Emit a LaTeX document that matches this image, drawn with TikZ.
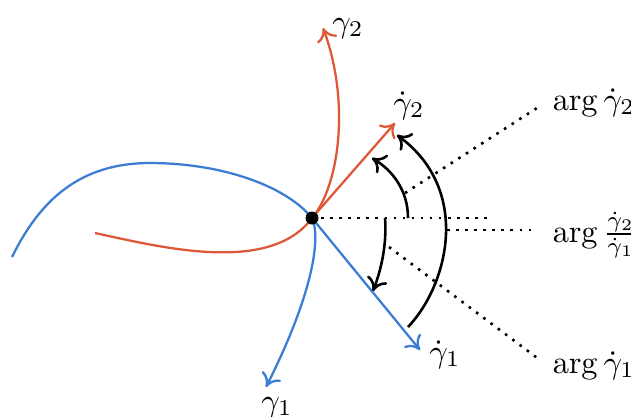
\documentclass[tikz,border=0pt]{standalone}
\usetikzlibrary{arrows.meta}
\definecolor{cblue}{RGB}{58,125,210}
\definecolor{cred}{RGB}{222,88,56}
\begin{document}
\begin{tikzpicture}[x=0.309pt,y=-0.309pt,
  curve/.style={line width=0.7pt},
  tip/.style={-{To[length=4pt,width=6.6pt]}},
  arcarrow/.style={line width=0.8pt,black,-{To[length=4pt,width=6.6pt]}},
  leader/.style={line width=0.8pt,dotted},
  lab/.style={inner sep=0pt,anchor=base}]
\useasboundingbox (0,0) rectangle (631,416);
% key points
\coordinate (P) at (312,218);
\coordinate (T2) at (395,123);
\coordinate (T1) at (420,350);
\coordinate (G2) at (323,28);
\coordinate (G1) at (266,387);
\coordinate (H) at (490,218);
% curves
\draw[curve,cblue,tip] (12,257) .. controls (40,200) and (80,163) .. (150,163)
  .. controls (220,163) and (285,185) .. (P)
  .. controls (322,240) and (310,300) .. (G1);
\draw[curve,cred,tip] (95,233) .. controls (160,247) and (270,275) .. (P)
  .. controls (340,185) and (350,100) .. (G2);
% tangent vectors
\draw[curve,cred,tip] (P) -- (T2);
\draw[curve,cblue,tip] (P) -- (T1);
% horizontal reference
\draw[leader] (P) -- (H);
% angle arcs
\draw[arcarrow] (408,218) .. controls (408,190) and (392,170) .. (372,158);
\draw[arcarrow] (385,218) .. controls (387,245) and (381,270) .. (373,291);
\draw[arcarrow] (408,327) .. controls (448,285) and (472,190) .. (397,135);
% leader starts
\coordinate (A2) at (405,193);
\coordinate (A21) at (447,230);
\coordinate (A1) at (389,247);
% labels
\node[lab] (l2) at (348,32) {$\gamma_2$};
\node[lab] (ld2) at (409,113) {$\dot\gamma_2$};
\node[lab] (ld1) at (445,362) {$\dot\gamma_1$};
\node[lab] (l1) at (277,411) {$\gamma_1$};
\node[inner sep=0pt,anchor=base west] (arg2) at (552,110) {$\arg\dot\gamma_2$};
\node[inner sep=0pt,anchor=base west] (arg21) at (552,242) {$\arg\frac{\dot\gamma_2}{\dot\gamma_1}$};
\node[inner sep=0pt,anchor=base west] (arg1) at (552,373) {$\arg\dot\gamma_1$};
% leaders
\draw[leader] (A2) -- (540,106);
\draw[leader] (A21) -- (537,230);
\draw[leader] (A1) -- (540,360);
% point
\fill (P) circle (6.5);
\end{tikzpicture}
\end{document}
